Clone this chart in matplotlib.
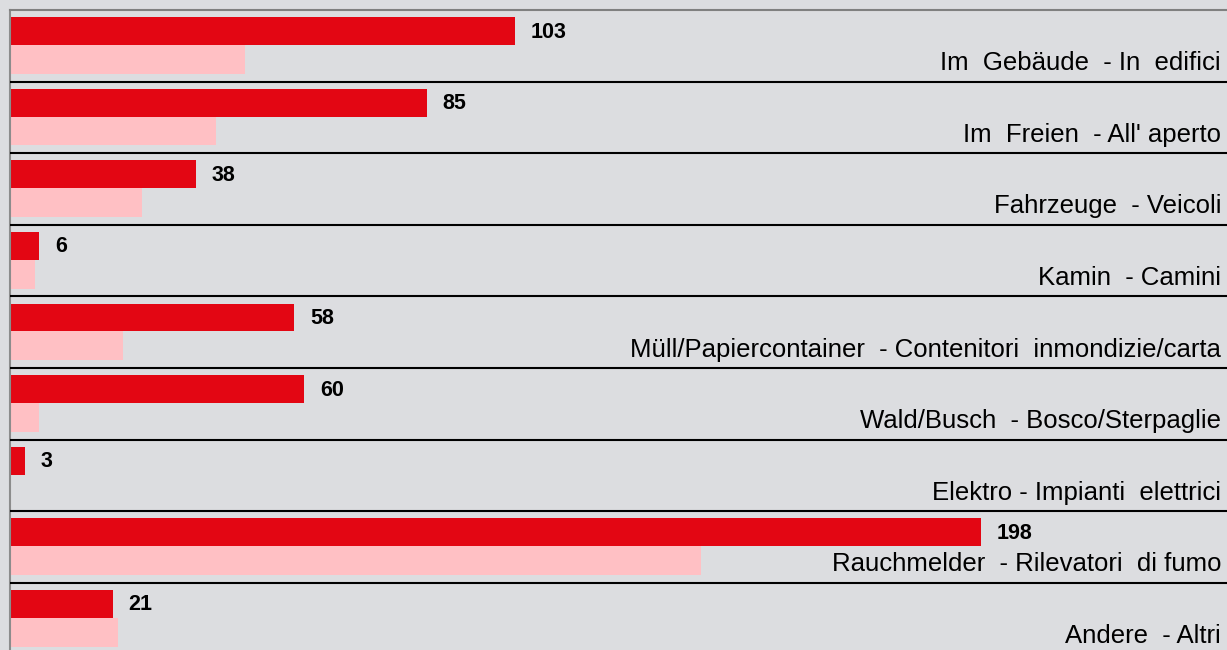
import matplotlib
matplotlib.use("Agg")
import matplotlib.pyplot as plt

categories = [
    "Im  Gebäude  - In  edifici",
    "Im  Freien  - All' aperto",
    "Fahrzeuge  - Veicoli",
    "Kamin  - Camini",
    "Müll/Papiercontainer  - Contenitori  inmondizie/carta",
    "Wald/Busch  - Bosco/Sterpaglie",
    "Elektro - Impianti  elettrici",
    "Rauchmelder  - Rilevatori  di fumo",
    "Andere  - Altri",
]
current = [103, 85, 38, 6, 58, 60, 3, 198, 21]
previous = [48, 42, 27, 5, 23, 6, 0, 141, 22]

RED = "#e30613"
PINK = "#ffc0c4"
BG = "#dcdde0"

plt.rcParams['font.family'] = ['Liberation Sans', 'DejaVu Sans']

fig = plt.figure(figsize=(12.27, 6.5), dpi=100, facecolor=BG)
ax = fig.add_axes([10/1227, 1 - 654.4/650, 1 - 10/1227, 644.4/650])
ax.set_facecolor(BG)

n = len(categories)
ys = list(range(n))
ax.barh([y + 0.295 for y in ys], current, height=0.39, color=RED, align='center', zorder=2)
ax.barh([y + 0.69 for y in ys], previous, height=0.40, color=PINK, align='center', zorder=2)

ax.set_ylim(n, 0)
xmax = (1227 - 10) / 4.904
ax.set_xlim(0, xmax)

for y in range(1, n):
    ax.axhline(y, color="black", lw=1.5, zorder=3)

for y, v, c in zip(ys, current, categories):
    ax.text(v + 3.2, y + 0.31, str(v), fontsize=15.5, fontweight='bold',
            ha='left', va='center', color='black')
    ax.text((1221 - 10) / 4.904, y + 0.84, c, fontsize=18.5,
            ha='right', va='baseline', color='black')

ax.set_xticks([])
ax.set_yticks([])
for s in ['right', 'bottom']:
    ax.spines[s].set_visible(False)
ax.spines['top'].set_color('#808080')
ax.spines['top'].set_linewidth(1.5)
ax.spines['left'].set_color('#8c8c8c')
ax.spines['left'].set_linewidth(1.5)

fig.savefig("out.png", dpi=100, facecolor=BG)
